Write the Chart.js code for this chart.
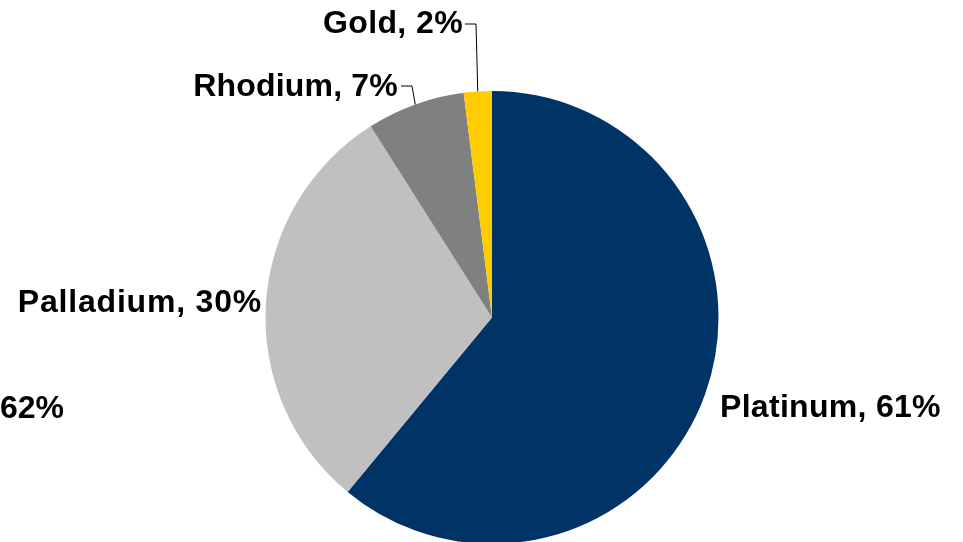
<!DOCTYPE html>
<html>
<head>
<meta charset="utf-8">
<script src="https://cdn.jsdelivr.net/npm/chart.js@4/dist/chart.umd.min.js"></script>
<style>
html,body{margin:0;padding:0;background:#fff;overflow:hidden;width:963px;height:542px;}
#wrap{position:relative;width:963px;height:635px;}
</style>
</head>
<body>
<div id="wrap"><canvas id="c"></canvas></div>
<script>
const categories = ['Platinum', 'Palladium', 'Rhodium', 'Gold'];
const shares = [61, 30, 7, 2];
const sliceColors = ['#003366', '#c0c0c0', '#808080', '#ffcc00'];
const strayLabel = '62%';

// label placement (style only): text anchor, alignment, spacing, optional leader elbow
const labelStyle = [
  {x: 720, y: 417, align: 'left', spacing: 0.3},
  {x: 262, y: 312, align: 'right', spacing: 0.8},
  {x: 398, y: 96, align: 'right', spacing: 0.2, elbow: [412, 86], end: [401, 86]},
  {x: 463, y: 33, align: 'right', spacing: 0.4, elbow: [476, 24], end: [465, 24]}
];

const labelPlugin = {
  id: 'pieLabels',
  afterDatasetsDraw(chart) {
    const ctx = chart.ctx;
    const meta = chart.getDatasetMeta(0);
    ctx.save();
    ctx.font = 'bold 32px "Liberation Sans", Arial, sans-serif';
    ctx.fillStyle = '#000';
    ctx.textBaseline = 'alphabetic';
    meta.data.forEach((arc, i) => {
      const st = labelStyle[i];
      const txt = categories[i] + ', ' + shares[i] + '%';
      ctx.letterSpacing = st.spacing + 'px';
      ctx.textAlign = st.align;
      ctx.fillText(txt, st.x, st.y);
      if (st.elbow) {
        const mid = (arc.startAngle + arc.endAngle) / 2;
        const ax = arc.x + Math.cos(mid) * arc.outerRadius;
        const ay = arc.y + Math.sin(mid) * arc.outerRadius;
        ctx.beginPath();
        ctx.strokeStyle = '#000';
        ctx.lineWidth = 1;
        ctx.moveTo(ax, ay);
        ctx.lineTo(st.elbow[0], st.elbow[1]);
        ctx.lineTo(st.end[0], st.end[1]);
        ctx.stroke();
      }
    });
    ctx.letterSpacing = '0px';
    ctx.textAlign = 'left';
    ctx.fillText(strayLabel, 0, 418);
    ctx.restore();
  }
};

new Chart(document.getElementById('c'), {
  type: 'pie',
  data: {
    labels: categories,
    datasets: [{
      data: shares,
      backgroundColor: sliceColors,
      borderWidth: 0
    }]
  },
  options: {
    responsive: true,
    maintainAspectRatio: false,
    animation: false,
    layout: {padding: {left: 265.5, right: 244.5, top: 91, bottom: 91}},
    plugins: {legend: {display: false}, tooltip: {enabled: false}}
  },
  plugins: [labelPlugin]
});
</script>
</body>
</html>
